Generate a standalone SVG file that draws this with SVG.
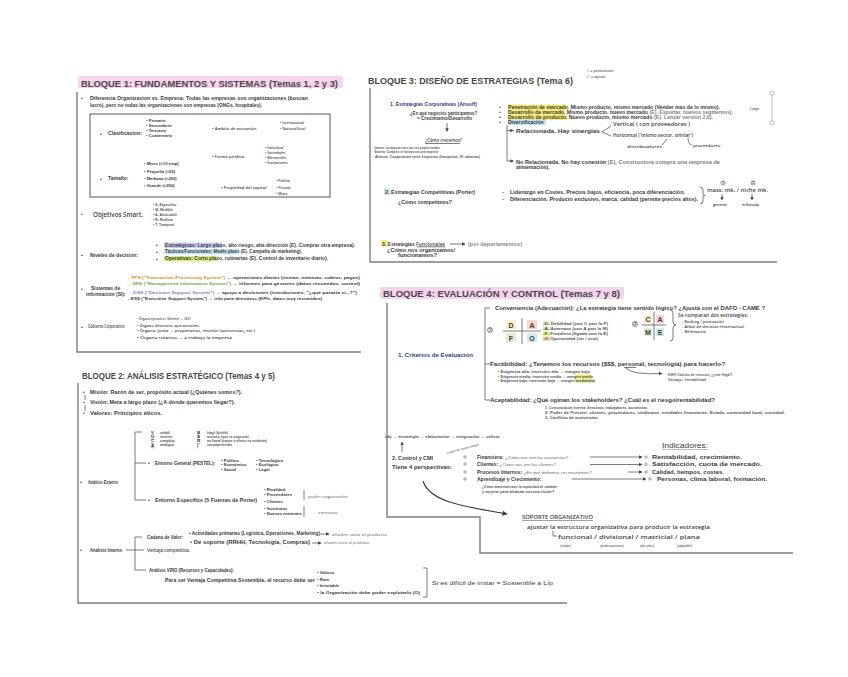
<svg xmlns="http://www.w3.org/2000/svg" width="848" height="677" viewBox="0 0 848 677">
<defs>
<style>
text{font-family:"Liberation Sans",Arial,sans-serif;fill:#3a3a3a}
.tt{font-size:9.6px;font-weight:bold;fill:#474747}
.m{font-size:5px;font-weight:bold}
.s{font-size:4.2px;font-weight:bold}
.xs{font-size:3.4px;font-weight:bold;fill:#555}
.hw{font-family:"Open Sans",sans-serif;fill:#3f3f3f;font-weight:600}
.g{fill:#8a8a8a}
.blue{fill:#2f3f7a}
.fr{fill:none;stroke:#7d7d7d;stroke-width:1.4}
.ln{fill:none;stroke:#444;stroke-width:0.7}
.lg{fill:none;stroke:#999;stroke-width:0.6}
.pink{fill:#f6d3ec}
</style>
<marker id="ah" markerUnits="userSpaceOnUse" viewBox="0 0 6 6" refX="5.5" refY="3" markerWidth="3.5" markerHeight="3.5" orient="auto"><path d="M0,0 L6,3 L0,6 z" fill="#444"/></marker>
<marker id="ahb" markerUnits="userSpaceOnUse" viewBox="0 0 6 6" refX="5.5" refY="3" markerWidth="5" markerHeight="5" orient="auto"><path d="M0,0 L6,3 L0,6 z" fill="#333"/></marker>
</defs>
<rect width="848" height="677" fill="#fff"/>

<!-- ================= BLOQUE 1 ================= -->
<g id="bloque1">
<rect class="pink" x="78" y="76" width="265" height="12" rx="2"/>
<text class="tt" x="81" y="86.5" textLength="257" lengthAdjust="spacingAndGlyphs">BLOQUE 1: FUNDAMENTOS Y SISTEMAS (Temas 1, 2 y 3)</text>
<path class="fr" d="M77,92 V352 H361"/>
</g>
<g id="b1-diferencia">
<text class="m" x="81" y="100">•</text>
<text class="m" x="90" y="99.5" textLength="218" lengthAdjust="spacingAndGlyphs">Diferencia Organizacion vs. Empresa: Todas las empresas son organizaciones (buscan</text>
<text class="m" x="90" y="106.5" textLength="172" lengthAdjust="spacingAndGlyphs">lucro), pero no todas las organizaciones son empresas (ONGs, hospitales).</text>
</g>
<g id="b1-box">
<rect x="90" y="114" width="240" height="83" fill="none" stroke="#444" stroke-width="0.9"/>
<text class="m" x="100" y="136">•</text>
<text class="m" x="108" y="134.5" textLength="34" lengthAdjust="spacingAndGlyphs">Clasificacion:</text>
<text class="s" x="146" y="121.5">• Primario</text>
<text class="s" x="146" y="127">• Secundario</text>
<text class="s" x="146" y="132">• Terciario</text>
<text class="s" x="146" y="137">• Cuaternario</text>
<text class="s hw" x="212" y="130">• Ámbito de actuación</text>
<text class="xs hw" x="280" y="124">• Internacional</text>
<text class="xs hw" x="280" y="130">• Nacional/local</text>
<text class="s hw" x="212" y="158">• Forma jurídica:</text>
<text class="xs hw" x="265" y="148.5">• Individual</text>
<text class="xs hw" x="265" y="153.5">• Sociedades</text>
<text class="xs hw" x="265" y="158.5">• Mercantiles</text>
<text class="xs hw" x="265" y="164">• Fundaciones</text>
<text class="s" x="144" y="165">• Micro (&lt;10 emp)</text>
<text class="s" x="144" y="172.5">• Pequeña (&lt;50)</text>
<text class="s" x="144" y="179.5">• Mediana (&lt;250)</text>
<text class="s" x="144" y="186.5">• Grande (&gt;250)</text>
<text class="m" x="100" y="181">•</text>
<text class="m" x="108" y="180">Tamaño:</text>
<text class="s hw" x="221" y="189">• Propiedad del capital</text>
<text class="xs hw" x="276" y="182">• Pública</text>
<text class="xs hw" x="276" y="188.5">• Privada</text>
<text class="xs hw" x="276" y="194.5">• Mixta</text>
</g>
<g id="b1-smart">
<text class="m" x="81" y="216">•</text>
<text class="hw" x="93" y="217" font-size="6.3" textLength="50" lengthAdjust="spacingAndGlyphs">Objetivos Smart.</text>
<text class="xs" x="153" y="205.5">• S- Específico</text>
<text class="xs" x="153" y="210.5">• M- Medible</text>
<text class="xs" x="153" y="215.5">• A- Alcanzable</text>
<text class="xs" x="153" y="220.5">• R- Realista</text>
<text class="xs" x="153" y="225.5">• T- Temporal</text>
</g>
<g id="b1-niveles">
<text class="m" x="81" y="257">•</text>
<text class="m" x="90" y="256.5" textLength="48" lengthAdjust="spacingAndGlyphs">Niveles de decisión:</text>
<rect x="164" y="242.5" width="58" height="5.5" fill="#cacdf3"/>
<rect x="164" y="249" width="74" height="5.5" fill="#c7e6f7"/>
<rect x="164" y="256" width="53" height="5.5" fill="#d9ee7e"/>
<text class="m" x="156" y="247">•</text>
<text class="m" x="156" y="253.5">•</text>
<text class="m" x="156" y="260.5">•</text>
<text class="m" x="165" y="246.5" textLength="190" lengthAdjust="spacingAndGlyphs">Estratégicas: Largo plazo, alto riesgo, alta dirección (E). Comprar otra empresa).</text>
<text class="m" x="165" y="253" textLength="137" lengthAdjust="spacingAndGlyphs">Tácticas/Funcionales: Medio plazo (E). Campaña de marketing).</text>
<text class="m" x="165" y="260" textLength="163" lengthAdjust="spacingAndGlyphs">Operativas: Corto plazo, rutinarias (E). Control de inventario diario).</text>
</g>
<g id="b1-si">
<text class="m" x="81" y="291">•</text>
<text class="m" x="91" y="289.5">Sistemas de</text>
<text class="m" x="86" y="295.5">información (SI):</text>
<text class="s" x="128" y="278.5" textLength="232" lengthAdjust="spacingAndGlyphs"><tspan fill="#d9892b">- TPS ("Transaction Processing System")</tspan> → operaciones diarias (ventas, nóminas, cobros, pagos)</text>
<text class="s" x="130" y="284.5" textLength="230" lengthAdjust="spacingAndGlyphs"><tspan fill="#6aa84f">- MIS ("Management Information System")</tspan> → informes para gestores (datos resumidos, control)</text>
<text class="s" x="130" y="293.5" textLength="227" lengthAdjust="spacingAndGlyphs"><tspan fill="#8e7cc3">- DSS ("Decision Support System")</tspan> → apoyo a decisiones (simulaciones, "¿qué pasaría si...?")</text>
<text class="s" x="128" y="299.5" textLength="194" lengthAdjust="spacingAndGlyphs">- ESS ("Executive Support System") → info para directivos (KPIs, datos muy resumidos)</text>
</g>
<g id="b1-gobierno">
<text class="m" x="81" y="329">•</text>
<text class="hw" x="88" y="328" font-size="4.6" textLength="37" lengthAdjust="spacingAndGlyphs">Gobierno Corporativo:</text>
<text class="xs hw" x="137" y="320" textLength="53" lengthAdjust="spacingAndGlyphs">• Órgano ejecutivo / Gerente → CEO</text>
<text class="xs hw" x="137" y="327" textLength="63" lengthAdjust="spacingAndGlyphs">• Órgano decisorio: que acciones.</text>
<text class="xs hw" x="137" y="332" textLength="118" lengthAdjust="spacingAndGlyphs">• Órgano: Junta → propietarios, reunión (accionistas, etc.)</text>
<text class="xs hw" x="137" y="338.5" textLength="95" lengthAdjust="spacingAndGlyphs">• Órgano rotativo → a trabajo la empresa</text>
</g>

<!-- ================= BLOQUE 3 ================= -->
<g id="bloque3">
<text x="587" y="71.5" font-size="3.8" fill="#e5c400">#  = penetración</text>
<text x="587" y="77.5" font-size="3.8" fill="#3f8fd8">#' = opción</text>
<text class="tt" x="368" y="83.5" textLength="205" lengthAdjust="spacingAndGlyphs">BLOQUE 3: DISEÑO DE ESTRATEGIAS (Tema 6)</text>
<path class="fr" d="M370,88 V262 H777"/>
</g>
<g id="b3-ansoff">
<text class="m blue" x="390" y="105.5" textLength="87" lengthAdjust="spacingAndGlyphs">1. Estrategias Corporativas (Ansoff)</text>
<text class="m" x="410" y="114.5" textLength="67" lengthAdjust="spacingAndGlyphs">¿En qué negocios participamos?</text>
<text class="m" x="417" y="119.5" textLength="55" lengthAdjust="spacingAndGlyphs">= Crecimiento/Desarrollo</text>
<text class="hw" x="425" y="141.5" font-size="6" textLength="37" lengthAdjust="spacingAndGlyphs">¿Cómo crecemos?</text>
<line class="ln" x1="425" y1="143.5" x2="460" y2="143.5"/>
<text class="xs" x="373" y="148.5" font-size="3.1" textLength="67" lengthAdjust="spacingAndGlyphs">· Interna: La empresa crece por sus propios medios</text>
<text class="xs" x="373" y="153" font-size="3.1" textLength="65" lengthAdjust="spacingAndGlyphs">· Externa: Compra o se fusiona con otra empresa</text>
<text class="xs" x="373" y="157.5" font-size="3.1" textLength="107" lengthAdjust="spacingAndGlyphs">· Alianza: Cooperación entre empresas (franquicia, JV, alianzas)</text>
</g>
<g id="b3-ansoff-list">
<rect x="508" y="104.5" width="59" height="5.5" fill="#f7eb78"/>
<rect x="508" y="109.5" width="57" height="5.5" fill="#f7eb78"/>
<rect x="508" y="114.5" width="59" height="5.5" fill="#f7eb78"/>
<rect x="508" y="119.5" width="38" height="5.5" fill="#bfe2f5"/>
<text class="m" x="499" y="109">•</text>
<text class="m" x="499" y="114">•</text>
<text class="m" x="499" y="119">•</text>
<text class="m" x="499" y="124">•</text>
<text class="m" x="508" y="108.5" textLength="212" lengthAdjust="spacingAndGlyphs">Penetración de mercado. Mismo producto, mismo mercado (Vender mas de lo mismo).</text>
<text class="m" x="508" y="113.5" textLength="225" lengthAdjust="spacingAndGlyphs">Desarrollo de mercado. Mismo producto, nuevo mercado <tspan fill="#7a7f8a">(E). Exportar, nuevos segmentos).</tspan></text>
<text class="m" x="508" y="118.5" textLength="205" lengthAdjust="spacingAndGlyphs">Desarrollo de producto. Nuevo producto, mismo mercado <tspan fill="#7a7f8a">(E). Lanzar versión 2.0).</tspan></text>
<text class="m" x="508" y="123.5">Diversificación</text>
<text class="m" x="516" y="133" textLength="84" lengthAdjust="spacingAndGlyphs">Relacionada. Hay sinergias</text>
<text class="hw" x="613" y="126" font-size="4.4" textLength="77" lengthAdjust="spacingAndGlyphs">Vertical ( con proveedores )</text>
<text class="hw" x="613" y="137" font-size="4.4" textLength="80" lengthAdjust="spacingAndGlyphs">Horizontal ('mismo sector, similar')</text>
<text class="hw" x="627" y="148" font-size="4" textLength="35" lengthAdjust="spacingAndGlyphs">distribuidores</text>
<text class="hw" x="693" y="147" font-size="3.6" textLength="28" lengthAdjust="spacingAndGlyphs">proveedores.</text>
<text class="m" x="516" y="163.5" textLength="204" lengthAdjust="spacingAndGlyphs">No Relacionada. No hay conexión <tspan fill="#7a7f8a">(E). Constructora compra una empresa de</tspan></text>
<text class="m" x="516" y="169" fill="#7a7f8a">alimentación).</text>
<text x="750" y="110" font-size="3.5" fill="#999">Largo</text>
<line class="lg" x1="772" y1="95" x2="772" y2="121"/>
<circle cx="772" cy="93" r="2" fill="none" stroke="#999" stroke-width="0.6"/>
<circle cx="772" cy="123" r="2" fill="none" stroke="#999" stroke-width="0.6"/>
</g>
<g id="b3-porter">
<rect x="384" y="188.5" width="6" height="6" fill="#bfe2f5"/>
<text class="m" x="385" y="193.5" textLength="90" lengthAdjust="spacingAndGlyphs">2. Estrategias Competitivas (Porter)</text>
<text class="m" x="398" y="203.5" font-weight="normal" textLength="54" lengthAdjust="spacingAndGlyphs">¿Cómo competimos?</text>
<text class="m" x="502" y="193.5">-</text>
<text class="m" x="502" y="200.5">-</text>
<text class="m" x="510" y="193.5" textLength="175" lengthAdjust="spacingAndGlyphs">Liderazgo en Costes. Precios bajos, eficiencia, poca diferenciación.</text>
<text class="m" x="510" y="200.5" textLength="188" lengthAdjust="spacingAndGlyphs">Diferenciación. Producto exclusivo, marca, calidad (permite precios altos).</text>
<path class="ln" d="M700,187 Q703,187 703,190 V194 Q703,195.5 705,195.5 Q703,195.5 703,197 V201 Q703,204 700,204"/>
<circle cx="723" cy="183" r="2" fill="none" stroke="#444" stroke-width="0.6"/>
<text x="723" y="184.2" font-size="3" text-anchor="middle" font-weight="bold">1</text>
<circle cx="753" cy="183" r="2" fill="none" stroke="#444" stroke-width="0.6"/>
<text x="753" y="184.2" font-size="3" text-anchor="middle" font-weight="bold">2</text>
<text class="hw" x="707" y="191.5" font-size="5" textLength="61" lengthAdjust="spacingAndGlyphs">mass. mk. / niche mk.</text>
<text class="hw" x="713" y="205.5" font-size="3.8">general</text>
<text class="hw" x="742" y="205.5" font-size="3.8">enfocada</text>
</g>
<g id="b3-funcionales">
<rect x="381" y="240" width="6" height="6.5" fill="#f7eb78"/>
<text class="m" x="382" y="245.5" textLength="63" lengthAdjust="spacingAndGlyphs">3. Estrategias <tspan class="hw">Funcionales</tspan></text>
<line class="ln" x1="417" y1="246.8" x2="445" y2="246.8"/>
<text class="m g" x="468" y="245.5" textLength="54" lengthAdjust="spacingAndGlyphs" font-weight="normal">(por departamentos)</text>
<text class="m" x="387" y="251.5" font-weight="normal" textLength="68" lengthAdjust="spacingAndGlyphs">¿Cómo nos organizamos/</text>
<text class="m" x="398" y="256.5" font-weight="normal" textLength="39" lengthAdjust="spacingAndGlyphs">funcionamos?</text>
</g>

<!-- ================= BLOQUE 4 ================= -->
<g id="bloque4">
<rect class="pink" x="380" y="287" width="244" height="12" rx="2"/>
<text class="tt" x="383" y="297" textLength="237" lengthAdjust="spacingAndGlyphs">BLOQUE 4: EVALUACIÓN Y CONTROL (Temas 7 y 8)</text>
<path class="fr" d="M387,303 V517 H480 V553 H793"/>
</g>
<g id="b4-criterios">
<text class="m blue" x="398" y="357" textLength="75" lengthAdjust="spacingAndGlyphs">1. Criterios de Evaluación</text>
</g>
<g id="b4-conveniencia">
<text class="m" x="495" y="310" font-size="5.5" textLength="270" lengthAdjust="spacingAndGlyphs">Conveniencia (Adecuación): ¿La estrategia tiene sentido lógico? ¿Ajusta con el DAFO - CAME ?</text>
<circle cx="490" cy="330" r="2.4" fill="none" stroke="#333" stroke-width="0.7"/>
<text x="490" y="331.4" font-size="3.6" text-anchor="middle" font-weight="bold">1</text>
<rect x="506" y="320" width="10" height="9" fill="#fdeccb"/>
<rect x="527" y="320" width="10" height="9" fill="#f9d4ce"/>
<rect x="506" y="333" width="10" height="9" fill="#dcefd2"/>
<rect x="527" y="333" width="10" height="9" fill="#cfeee8"/>
<line class="ln" x1="503" y1="331" x2="541" y2="331"/>
<line class="ln" x1="522" y1="318" x2="522" y2="344"/>
<text x="511" y="327.6" font-size="7" font-weight="bold" text-anchor="middle" fill="#d4912e">D</text>
<text x="532" y="327.6" font-size="7" font-weight="bold" text-anchor="middle" fill="#d9483b">A</text>
<text x="511" y="340.6" font-size="7" font-weight="bold" text-anchor="middle" fill="#5fa050">F</text>
<text x="532" y="340.6" font-size="7" font-weight="bold" text-anchor="middle" fill="#2f9a8a">O</text>
<rect x="543" y="321.5" width="7" height="4" fill="#dff0b0"/>
<rect x="543" y="326.5" width="7" height="4" fill="#cfeec8"/>
<rect x="543" y="331.5" width="7" height="4" fill="#f7eb78"/>
<rect x="543" y="336.5" width="7" height="4" fill="#f8d39a"/>
<text class="xs" x="543" y="324.5" textLength="65" lengthAdjust="spacingAndGlyphs">-D- Debilidad (con C pon la F)</text>
<text class="xs" x="543" y="329.5" textLength="65" lengthAdjust="spacingAndGlyphs">-A- Amenaza (con A pon la M)</text>
<text class="xs" x="543" y="334.5" textLength="65" lengthAdjust="spacingAndGlyphs">-F- Fortaleza (ligada con la E)</text>
<text class="xs" x="543" y="339.5" textLength="55" lengthAdjust="spacingAndGlyphs">-O- Oportunidad (ser / usar)</text>
<circle cx="635" cy="324" r="2.4" fill="none" stroke="#333" stroke-width="0.7"/>
<text x="635" y="325.4" font-size="3.6" text-anchor="middle" font-weight="bold">2</text>
<line class="ln" x1="642" y1="325" x2="666" y2="325"/>
<line class="ln" x1="654" y1="312" x2="654" y2="340"/>
<rect x="644" y="315" width="8" height="8" fill="#fdeccb"/>
<rect x="656" y="315" width="8" height="8" fill="#f9d4ce"/>
<rect x="644" y="328" width="8" height="8" fill="#dcefd2"/>
<rect x="656" y="328" width="8" height="8" fill="#cfeee8"/>
<text x="648" y="322" font-size="7" font-weight="bold" text-anchor="middle" fill="#e0962f">C</text>
<text x="660" y="322" font-size="7" font-weight="bold" text-anchor="middle" fill="#d9483b">A</text>
<text x="648" y="335" font-size="7" font-weight="bold" text-anchor="middle" fill="#4f9a5a">M</text>
<text x="660" y="335" font-size="7" font-weight="bold" text-anchor="middle" fill="#2f9a8a">E</text>
<path class="ln" d="M670,310 Q673,310 673,313 V322 Q673,325 676,325 Q673,325 673,328 V338 Q673,341 670,341"/>
<text class="hw" x="678" y="316.5" font-size="4.4" textLength="70" lengthAdjust="spacingAndGlyphs">Se comparan dos estrategias:</text>
<text class="hw" x="682" y="323" font-size="3.6" textLength="42" lengthAdjust="spacingAndGlyphs">- Ranking / puntuación</text>
<text class="hw" x="682" y="328" font-size="3.6" textLength="62" lengthAdjust="spacingAndGlyphs">- Árbol de decisión (escenarios)</text>
<text class="hw" x="682" y="333" font-size="3.6" textLength="24" lengthAdjust="spacingAndGlyphs">- Relevancia</text>
</g>
<g id="b4-factibilidad">
<text class="m" x="490" y="366" font-size="5.5" textLength="235" lengthAdjust="spacingAndGlyphs">Factibilidad: ¿Tenemos los recursos ($$$, personal, tecnología) para hacerlo?</text>
<line class="ln" x1="624" y1="367.5" x2="636" y2="367.5"/>
<rect x="575" y="374.5" width="17" height="4" fill="#f7eb78"/>
<rect x="575" y="379" width="20" height="4" fill="#dff0a0"/>
<text class="xs" x="498" y="373" font-size="3.1" textLength="92" lengthAdjust="spacingAndGlyphs">• Exigencia alta: inversión alta → margen bajo</text>
<text class="xs" x="498" y="377.5" font-size="3.1" textLength="95" lengthAdjust="spacingAndGlyphs">• Exigencia media: inversión media → margen medio</text>
<text class="xs" x="498" y="382" font-size="3.1" textLength="97" lengthAdjust="spacingAndGlyphs">• Exigencia baja: inversión baja → margen medio/alto</text>
<text class="xs hw" x="668" y="375.5" textLength="64" lengthAdjust="spacingAndGlyphs">ESEP (Cálculo de recursos, ¿y me llega?)</text>
<text class="xs hw" x="668" y="380.5" textLength="38" lengthAdjust="spacingAndGlyphs">Ventaja / rentabilidad</text>
</g>
<g id="b4-aceptabilidad">
<text class="m" x="490" y="402" font-size="5.5" textLength="225" lengthAdjust="spacingAndGlyphs">Aceptabilidad: ¿Qué opinan los stakeholders? ¿Cuál es el riesgo/rentabilidad?</text>
<text class="xs" x="545" y="408.5" font-size="3.1" textLength="103" lengthAdjust="spacingAndGlyphs">1. Comunicación interna: directivos, trabajadores, accionistas.</text>
<text class="xs" x="545" y="413.5" font-size="3.1" textLength="240" lengthAdjust="spacingAndGlyphs">2. Poder de Presión: clientes, proveedores, sindicatos, entidades financieras, Estado, comunidad local, sociedad.</text>
<text class="xs" x="545" y="418.5" font-size="3.1" textLength="53" lengthAdjust="spacingAndGlyphs">3. Conflicto de accionistas</text>
</g>
<g id="b4-control">
<text class="xs" x="385" y="437.5" font-size="3.5" textLength="115" lengthAdjust="spacingAndGlyphs">obj → estrategia → elaboración → integración → utilizar</text>
<text class="m" x="392" y="459.5" fill="#8b2f7a" textLength="41" lengthAdjust="spacingAndGlyphs">2. Control y CMI</text>
<text x="447" y="454" font-size="3" fill="#999" transform="rotate(-15 447 454)" textLength="33" lengthAdjust="spacingAndGlyphs">Cuadro de mando integral</text>
<text class="m" x="392" y="468.5" textLength="60" lengthAdjust="spacingAndGlyphs">Tiene 4 perspectivas:</text>
</g>
<g id="b4-perspectivas">
<circle cx="465" cy="457" r="1.2" fill="none" stroke="#444" stroke-width="0.5"/>
<circle cx="465" cy="464" r="1.2" fill="none" stroke="#444" stroke-width="0.5"/>
<circle cx="465" cy="472" r="1.2" fill="none" stroke="#444" stroke-width="0.5"/>
<circle cx="465" cy="479" r="1.2" fill="none" stroke="#444" stroke-width="0.5"/>
<text class="m" x="477" y="458.5" font-size="5.4">Financiera: <tspan font-weight="normal" font-style="italic" font-size="4.4" fill="#666">¿Cómo nos ven los accionistas?</tspan></text>
<text class="m" x="477" y="466" font-size="5.4">Clientes:  <tspan font-weight="normal" font-style="italic" font-size="4.4" fill="#666">¿Cómo nos ven los clientes?</tspan></text>
<text class="m" x="477" y="473.5" font-size="5.4">Procesos Internos: <tspan font-weight="normal" font-style="italic" font-size="4.4" fill="#666">¿En qué debemos ser excelentes?</tspan></text>
<text class="m" x="477" y="481" font-size="5.4">Aprendizaje y Crecimiento:</text>
<text class="xs" x="482" y="487.5" font-weight="normal" font-style="italic" textLength="75" lengthAdjust="spacingAndGlyphs">¿Cómo mantendremos la capacidad de cambiar</text>
<text class="xs" x="482" y="492.5" font-weight="normal" font-style="italic" textLength="72" lengthAdjust="spacingAndGlyphs">y mejorar para alcanzar nuestra visión?</text>
</g>
<g id="b4-indicadores">
<text x="662" y="447.5" font-size="8" fill="#555" textLength="46" lengthAdjust="spacingAndGlyphs">Indicadores:</text>
<line x1="662" y1="449.5" x2="708" y2="449.5" stroke="#777" stroke-width="0.5"/>
<circle cx="646" cy="457" r="1.2" fill="none" stroke="#444" stroke-width="0.5"/>
<circle cx="646" cy="464.5" r="1.2" fill="none" stroke="#444" stroke-width="0.5"/>
<circle cx="646" cy="472" r="1.2" fill="none" stroke="#444" stroke-width="0.5"/>
<circle cx="650" cy="479" r="1.2" fill="none" stroke="#444" stroke-width="0.5"/>
<text class="m" x="652" y="458.8" font-size="5.4" textLength="90" lengthAdjust="spacingAndGlyphs">Rentabilidad, crecimiento.</text>
<text class="m" x="652" y="466.3" font-size="5.4" textLength="110" lengthAdjust="spacingAndGlyphs">Satisfacción, cuota de mercado.</text>
<text class="m" x="652" y="473.8" font-size="5.4" textLength="72" lengthAdjust="spacingAndGlyphs">Calidad, tiempos, costes.</text>
<text class="m" x="657" y="480.8" font-size="5.4" textLength="110" lengthAdjust="spacingAndGlyphs">Personas, clima laboral, formación.</text>
</g>
<g id="b4-soporte">
<text class="hw" x="522" y="519" font-size="5" textLength="71" lengthAdjust="spacingAndGlyphs">SOPORTE ORGANIZATIVO</text>
<line x1="522" y1="520.5" x2="593" y2="520.5" stroke="#444" stroke-width="0.5"/>
<text class="hw" x="527" y="528.5" font-size="5" textLength="183" lengthAdjust="spacingAndGlyphs">ajustar la estructura organizativa para producir la estrategia</text>
<text class="hw" x="558" y="538.5" font-size="5" textLength="142" lengthAdjust="spacingAndGlyphs">funcional / divisional / matricial / plana</text>
<text x="560" y="546.5" font-size="3" fill="#aaa">(simple)</text>
<text x="600" y="546.5" font-size="3" fill="#aaa">(productos/zonas)</text>
<text x="640" y="546.5" font-size="3" fill="#aaa">(dos jefes)</text>
<text x="677" y="546.5" font-size="3" fill="#aaa">(adaptable)</text>
</g>

<!-- ================= BLOQUE 2 ================= -->
<g id="bloque2">
<text class="tt" x="82" y="378.5" textLength="193" lengthAdjust="spacingAndGlyphs">BLOQUE 2: ANÁLISIS ESTRATÉGICO (Temas 4 y 5)</text>
<path class="fr" d="M78,383 V603 H567"/>
</g>
<g id="b2-mvv">
<text class="m" x="83" y="394">•</text>
<text class="m" x="90" y="393.5" textLength="152" lengthAdjust="spacingAndGlyphs">Misión: Razón de ser, propósito actual (¿Quiénes somos?).</text>
<text class="m" x="83" y="404">•</text>
<text class="m" x="90" y="403.5" textLength="145" lengthAdjust="spacingAndGlyphs">Visión: Meta a largo plazo (¿A dónde queremos llegar?).</text>
<text class="m" x="83" y="415">•</text>
<text class="m" x="90" y="414.5" textLength="72" lengthAdjust="spacingAndGlyphs">Valores: Principios éticos.</text>
</g>
<g id="b2-externo">
<text class="m" x="80" y="484">•</text>
<text class="m" x="88" y="483.5" textLength="30" lengthAdjust="spacingAndGlyphs">Análisis Externo</text>
</g>
<g id="b2-vuca">
<text x="151" y="433.8" font-size="4.4" font-weight="bold" text-decoration="underline">V</text>
<text x="151" y="438.1" font-size="4.4" font-weight="bold" text-decoration="underline">U</text>
<text x="151" y="442.4" font-size="4.4" font-weight="bold" text-decoration="underline">C</text>
<text x="151" y="446.7" font-size="4.4" font-weight="bold" text-decoration="underline">A</text>
<text class="xs" x="160" y="433.5" font-size="2.9">volátil</text>
<text class="xs" x="160" y="437.8" font-size="2.9">incierto</text>
<text class="xs" x="160" y="442.1" font-size="2.9">complejo</text>
<text class="xs" x="160" y="446.4" font-size="2.9">ambiguo</text>
<text x="197" y="433.8" font-size="4.4" font-weight="bold" text-decoration="underline">B</text>
<text x="197" y="438.1" font-size="4.4" font-weight="bold" text-decoration="underline">A</text>
<text x="197" y="442.4" font-size="4.4" font-weight="bold" text-decoration="underline">N</text>
<text x="197" y="446.7" font-size="4.4" font-weight="bold" text-decoration="underline">I</text>
<text class="xs" x="207" y="433.5" font-size="2.9">frágil (brittle)</text>
<text class="xs" x="207" y="437.8" font-size="2.9">ansioso (que se angustia)</text>
<text class="xs" x="207" y="442.1" font-size="2.9">no lineal (causa y efecto no evidente)</text>
<text class="xs" x="207" y="446.4" font-size="2.9">incomprensible</text>
</g>
<g id="b2-pestel">
<text class="m" x="148" y="465">•</text>
<text class="m" x="155" y="465" textLength="60" lengthAdjust="spacingAndGlyphs">Entorno General (PESTEL):</text>
<text class="s" x="221" y="461.5">• Político</text>
<text class="s" x="221" y="466">• Económico</text>
<text class="s" x="221" y="470.5">• Social</text>
<text class="s" x="256" y="461.5">• Tecnológico</text>
<text class="s" x="256" y="466">• Ecológico</text>
<text class="s" x="256" y="470.5">• Legal</text>
</g>
<g id="b2-porter">
<text class="m" x="148" y="502">•</text>
<text class="m" x="155" y="501.5" textLength="102" lengthAdjust="spacingAndGlyphs">Entorno Específico (5 Fuerzas de Porter)</text>
<text class="s" x="264" y="490.5">• Rivalidad</text>
<text class="s" x="264" y="495.5">• Proveedores</text>
<text class="s" x="264" y="503">• Clientes</text>
<text class="s" x="264" y="510">• Sustitutos</text>
<text class="s" x="264" y="515">• Nuevos entrantes</text>
<line class="ln" x1="304" y1="490" x2="304" y2="500"/>
<line class="ln" x1="304" y1="506" x2="304" y2="517"/>
<text class="hw g" x="308" y="497.5" font-size="3.5" textLength="40" lengthAdjust="spacingAndGlyphs">poder negociación</text>
<text class="hw g" x="318" y="513.5" font-size="3.2" textLength="20" lengthAdjust="spacingAndGlyphs">amenazas</text>
</g>
<g id="b2-interno">
<text class="m" x="80" y="552">•</text>
<text class="m" x="90" y="551.5" textLength="32" lengthAdjust="spacingAndGlyphs">Análisis Interno</text>
<text class="m" x="147" y="538.5" textLength="36" lengthAdjust="spacingAndGlyphs">Cadena de Valor:</text>
<text class="m" x="189" y="534.5" textLength="131" lengthAdjust="spacingAndGlyphs">• Actividades primarias (Logística, Operaciones, Marketing)</text>
<text class="hw g" x="332" y="535.5" font-size="4" textLength="55" lengthAdjust="spacingAndGlyphs">añaden valor al producto</text>
<text class="m" x="190" y="543.5" textLength="120" lengthAdjust="spacingAndGlyphs">• De soporte (RRHH, Tecnología, Compras)</text>
<text class="hw g" x="324" y="544" font-size="4" textLength="45" lengthAdjust="spacingAndGlyphs">añaden coste al producto</text>
<text class="hw" x="147" y="552" font-size="4.6" textLength="43" lengthAdjust="spacingAndGlyphs">Ventaja competitiva.</text>
</g>
<g id="b2-vrio">
<text class="m" x="149" y="571.5" textLength="85" lengthAdjust="spacingAndGlyphs">Análisis VRIO (Recursos y Capacidades):</text>
<text class="m" x="165" y="581.5" textLength="150" lengthAdjust="spacingAndGlyphs">Para ser Ventaja Competitiva Sostenible, el recurso debe ser</text>
<text class="s" x="317" y="573.5">• Valioso</text>
<text class="s" x="317" y="580.5">• Raro</text>
<text class="s" x="317" y="587">• Inimitable</text>
<text class="s" x="317" y="594" textLength="103" lengthAdjust="spacingAndGlyphs">• la Organización debe poder explotarlo (O)</text>
<text x="432" y="585" font-size="6" fill="#555" textLength="121" lengthAdjust="spacingAndGlyphs">Si es difícil de imitar = Sostenible a L/p</text>
</g>

<!-- ================= CONNECTORS ================= -->
<g id="connectors" fill="none" stroke="#444" stroke-width="0.7">
<path d="M447,123 V131.5" marker-end="url(#ah)"/>
<path d="M507,125 V130.5 H513.5" marker-end="url(#ah)"/>
<path d="M507,130 V161 H513.5" marker-end="url(#ah)"/>
<path d="M611,126 L602,132 L611,136"/>
<path d="M662,145 L667,139"/>
<path d="M688,138 Q688,144 692,145"/>
<path d="M722,194 V200" marker-end="url(#ah)"/>
<path d="M752,194 V200" marker-end="url(#ah)"/>
<path d="M450,244 H465" marker-end="url(#ah)"/>
<path d="M490,308 H485 V400 H490 M485,364 H490"/>
<path d="M626,368 Q632,375 662,373.5" marker-end="url(#ah)"/>
<path d="M402,452 V442" marker-end="url(#ah)"/>
<path d="M590,457 H642" marker-end="url(#ah)"/>
<path d="M590,464.5 H642" marker-end="url(#ah)"/>
<path d="M628,472 H642" marker-end="url(#ah)"/>
<path d="M572,479 H646" marker-end="url(#ah)"/>
<path d="M423,481 C430,503 468,507 507,514" stroke="#333" stroke-width="1.1" marker-end="url(#ahb)"/>
<path d="M553,531 V536 H557"/>
<path d="M85,395 V400 M85,405 V411"/>
<path d="M142,432 H135 V500 H146" />
<path d="M135,463 H146"/>
<path d="M142,537 H135 V570 H146"/>
<path d="M126,550 H144"/>
<path d="M320,534 H329" marker-end="url(#ah)"/>
<path d="M312,543 H321" marker-end="url(#ah)"/>
<path d="M423,568 H427 V597 H423"/>
</g>
</svg>
